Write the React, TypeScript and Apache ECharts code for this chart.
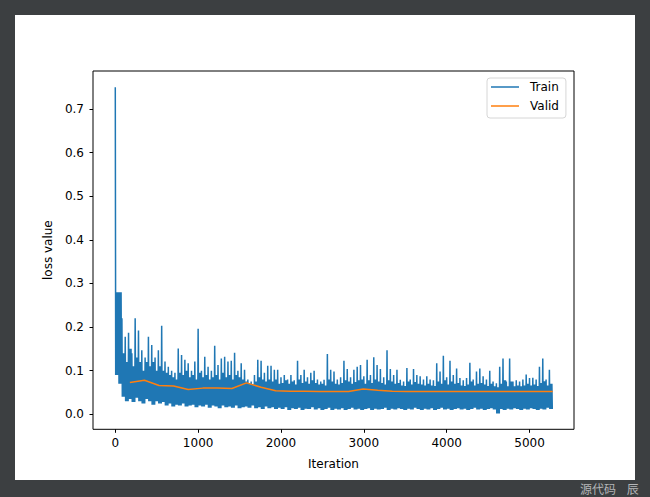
import React, { useEffect, useRef } from "react";
import * as echarts from "echarts";

// ---- data ----
const xTicks = [0, 1000, 2000, 3000, 4000, 5000];
const yTicks = [0, 0.1, 0.2, 0.3, 0.4, 0.5, 0.6, 0.7];

// training loss, summarised in 40-iteration bins: spike top, upper edge of dense band, floor
const trainStep = 40;
const trainPeak = [
  0.75, 0.28, 0.22, 0.178, 0.187, 0.14, 0.22, 0.192, 0.147, 0.13,
  0.178, 0.159, 0.13, 0.147, 0.203, 0.121, 0.109, 0.1, 0.095, 0.151,
  0.136, 0.125, 0.117, 0.1, 0.121, 0.196, 0.1, 0.132, 0.109, 0.1,
  0.157, 0.113, 0.128, 0.132, 0.121, 0.123, 0.141, 0.1, 0.117, 0.102,
  0.08, 0.075, 0.09, 0.125, 0.123, 0.095, 0.111, 0.111, 0.102, 0.102,
  0.085, 0.09, 0.08, 0.09, 0.078, 0.123, 0.09, 0.102, 0.085, 0.095,
  0.1, 0.08, 0.075, 0.079, 0.138, 0.102, 0.098, 0.08, 0.085, 0.123,
  0.104, 0.085, 0.102, 0.109, 0.113, 0.087, 0.125, 0.09, 0.131, 0.113,
  0.104, 0.085, 0.147, 0.104, 0.09, 0.102, 0.079, 0.075, 0.106, 0.08,
  0.104, 0.09, 0.087, 0.08, 0.087, 0.08, 0.078, 0.117, 0.098, 0.134,
  0.085, 0.123, 0.09, 0.105, 0.083, 0.078, 0.083, 0.118, 0.08, 0.098,
  0.105, 0.087, 0.08, 0.1, 0.075, 0.071, 0.109, 0.128, 0.075, 0.128,
  0.075, 0.078, 0.075, 0.08, 0.091, 0.083, 0.084, 0.08, 0.109, 0.128,
  0.08, 0.102,
];
const trainBody = [
  0.28, 0.28, 0.14, 0.12, 0.15, 0.11, 0.13, 0.12, 0.1, 0.12,
  0.11, 0.12, 0.1, 0.11, 0.1, 0.095, 0.09, 0.085, 0.08, 0.095,
  0.09, 0.1, 0.085, 0.09, 0.08, 0.095, 0.085, 0.09, 0.08, 0.085,
  0.09, 0.08, 0.095, 0.085, 0.09, 0.08, 0.09, 0.085, 0.08, 0.075,
  0.07, 0.068, 0.075, 0.085, 0.08, 0.075, 0.08, 0.075, 0.08, 0.07,
  0.072, 0.078, 0.07, 0.075, 0.068, 0.08, 0.072, 0.075, 0.07, 0.078,
  0.072, 0.068, 0.07, 0.066, 0.08, 0.075, 0.07, 0.068, 0.072, 0.078,
  0.075, 0.07, 0.074, 0.078, 0.08, 0.07, 0.078, 0.072, 0.08, 0.075,
  0.072, 0.068, 0.078, 0.075, 0.07, 0.072, 0.066, 0.065, 0.075, 0.068,
  0.074, 0.07, 0.068, 0.066, 0.07, 0.066, 0.065, 0.075, 0.07, 0.078,
  0.068, 0.075, 0.07, 0.072, 0.066, 0.065, 0.068, 0.075, 0.066, 0.07,
  0.072, 0.068, 0.065, 0.07, 0.064, 0.062, 0.07, 0.078, 0.064, 0.075,
  0.064, 0.066, 0.064, 0.066, 0.07, 0.066, 0.068, 0.065, 0.072, 0.076,
  0.066, 0.07,
];
const trainFloor = [
  0.09, 0.07, 0.04, 0.03, 0.035, 0.028, 0.038, 0.03, 0.025, 0.035,
  0.03, 0.022, 0.03, 0.025, 0.028, 0.02, 0.025, 0.018, 0.022, 0.02,
  0.025, 0.018, 0.02, 0.022, 0.016, 0.02, 0.018, 0.022, 0.015, 0.02,
  0.018, 0.014, 0.02, 0.016, 0.018, 0.015, 0.02, 0.014, 0.016, 0.018,
  0.015, 0.02, 0.014, 0.016, 0.012, 0.018, 0.014, 0.016, 0.012, 0.015,
  0.012, 0.016, 0.01, 0.014, 0.012, 0.015, 0.01, 0.013, 0.012, 0.016,
  0.011, 0.014, 0.01, 0.012, 0.015, 0.01, 0.013, 0.011, 0.014, 0.01,
  0.012, 0.015, 0.011, 0.013, 0.01, 0.012, 0.014, 0.01, 0.013, 0.011,
  0.012, 0.015, 0.01, 0.013, 0.011, 0.014, 0.012, 0.01, 0.013, 0.011,
  0.015, 0.012, 0.01, 0.013, 0.011, 0.014, 0.01, 0.012, 0.015, 0.011,
  0.013, 0.01, 0.012, 0.014, 0.011, 0.013, 0.01, 0.012, 0.015, 0.011,
  0.013, 0.01, 0.012, 0.014, 0.011, 0.002, 0.012, 0.01, 0.013, 0.011,
  0.014, 0.012, 0.01, 0.013, 0.011, 0.014, 0.012, 0.01, 0.013, 0.011,
  0.015, 0.012,
];

// validation loss, evaluated every 176 iterations
const validEvery = 176;
const validLoss = [
  0.073, 0.078, 0.066, 0.065, 0.057, 0.06, 0.06, 0.059, 0.072, 0.062,
  0.054, 0.053, 0.053, 0.052, 0.052, 0.052, 0.058, 0.055, 0.053, 0.052,
  0.052, 0.052, 0.052, 0.052, 0.052, 0.052, 0.052, 0.052, 0.052, 0.052,
];

const FONT = "DejaVu Sans";

export default function App() {
  const ref = useRef<HTMLDivElement>(null);

  useEffect(() => {
    if (!ref.current) return;
    const chart = echarts.init(ref.current, null, { renderer: "svg" });

    const trainData: number[][] = [];
    trainPeak.forEach((p, i) => {
      const x0 = i * trainStep;
      trainData.push([x0, p]);
      for (let k = 1; k < 8; k++) {
        trainData.push([x0 + k * 5, k % 2 === 1 ? trainFloor[i] : trainBody[i]]);
      }
    });
    const validData = validLoss.map((v, i) => [(i + 1) * validEvery, v]);

    chart.setOption({
      animation: false,
      backgroundColor: "#3c3f41",
      textStyle: { fontFamily: FONT },
      graphic: [
        {
          type: "rect",
          z: -10,
          shape: { x: 15, y: 15, width: 620, height: 465 },
          style: { fill: "#ffffff" },
        },
        {
          type: "text",
          x: 580,
          y: 482,
          style: {
            text: "源代码    辰",
            fill: "#b4b6b8",
            font: '12px "Noto Sans CJK SC"',
          },
        },
      ],
      grid: {
        left: 93,
        top: 71,
        right: 76,
        bottom: 67.7,
        show: true,
        borderColor: "#000",
        borderWidth: 1,
        backgroundColor: "#fff",
      },
      legend: {
        data: ["Train", "Valid"],
        orient: "vertical",
        left: 487,
        top: 78,
        padding: [3, 7, 6, 4],
        itemGap: 7,
        itemWidth: 28,
        itemHeight: 1.5,
        icon: "rect",
        borderColor: "#d6d6d6",
        borderWidth: 1,
        borderRadius: 3,
        backgroundColor: "#fff",
        textStyle: { fontSize: 12, color: "#000", fontFamily: FONT, padding: [0, 0, 0, 6] },
      },
      xAxis: {
        type: "value",
        min: -269,
        max: 5537,
        name: "Iteration",
        nameLocation: "middle",
        nameGap: 29,
        nameTextStyle: { fontSize: 12, color: "#000", fontFamily: FONT },
        axisLine: { show: false, onZero: false },
        splitLine: { show: false },
        axisTick: {
          show: true,
          length: 3.5,
          customValues: xTicks,
          lineStyle: { color: "#000" },
        },
        axisLabel: {
          customValues: xTicks,
          fontSize: 12,
          color: "#000",
          margin: 8,
          fontFamily: FONT,
          formatter: (v: number) => String(v),
        },
      },
      yAxis: {
        type: "value",
        min: -0.0344,
        max: 0.787,
        name: "loss value",
        nameLocation: "middle",
        nameGap: 38,
        nameTextStyle: { fontSize: 12, color: "#000", fontFamily: FONT },
        axisLine: { show: false, onZero: false },
        splitLine: { show: false },
        axisTick: {
          show: true,
          length: 3.5,
          customValues: yTicks,
          lineStyle: { color: "#000" },
        },
        axisLabel: {
          customValues: yTicks,
          fontSize: 12,
          color: "#000",
          margin: 9,
          fontFamily: FONT,
          formatter: (v: number) => v.toFixed(1),
        },
      },
      series: [
        {
          name: "Train",
          type: "line",
          data: trainData,
          showSymbol: false,
          symbol: "none",
          lineStyle: { color: "#1f77b4", width: 1.5 },
          itemStyle: { color: "#1f77b4" },
          z: 2,
        },
        {
          name: "Valid",
          type: "line",
          data: validData,
          showSymbol: false,
          symbol: "none",
          lineStyle: { color: "#ff7f0e", width: 1.5 },
          itemStyle: { color: "#ff7f0e" },
          z: 3,
        },
      ],
    });

    return () => chart.dispose();
  }, []);

  return (
    <div
      ref={ref}
      style={{ position: "absolute", left: 0, top: 0, width: 650, height: 497 }}
    />
  );
}
